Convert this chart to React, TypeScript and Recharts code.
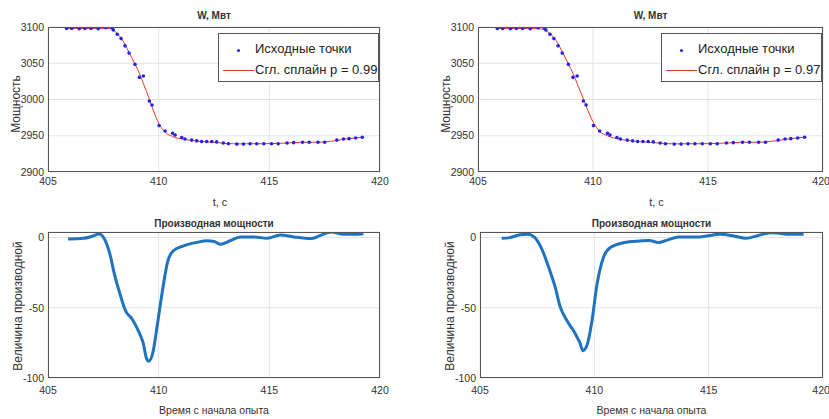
import React from "react"
import { ComposedChart, LineChart, Line, Scatter, XAxis, YAxis, CartesianGrid } from "recharts"

// source samples (shared by both top panels)
const ptsT = [
  405.84, 406.07, 406.41, 406.67, 406.94, 407.27, 407.61, 407.88, 407.95, 408.13,
  408.3, 408.48, 408.66, 408.93, 409.13, 409.31, 409.58, 409.7, 410.02, 410.29,
  410.63, 410.74, 411.04, 411.19, 411.49, 411.72, 411.94, 412.17, 412.4, 412.62,
  412.92, 413.15, 413.53, 413.83, 414.13, 414.43, 414.75, 415.1, 415.4, 415.8,
  416.1, 416.5, 416.8, 417.2, 417.5, 418.05, 418.35, 418.6, 418.9, 419.2,
]
const ptsW = [
  3098, 3098, 3097.5, 3098, 3098, 3097.5, 3099, 3099, 3096, 3090,
  3084, 3074, 3064, 3048.5, 3030.5, 3032.5, 2998, 2992.5, 2964, 2956.5,
  2953.5, 2951, 2947.5, 2945.5, 2944, 2943, 2942, 2942, 2942, 2941.5,
  2940, 2939, 2938.5, 2938.5, 2939, 2939, 2939, 2939, 2939, 2940,
  2940.5, 2941, 2941, 2941, 2941, 2944, 2945.5, 2946, 2947, 2948,
]

// smoothing spline, p = 0.99 / p = 0.97
const spline99 = [
  3098, 3098, 3098, 3098, 3098, 3098, 3098, 3097.5, 3096, 3091,
  3085, 3076, 3065, 3049, 3036, 3022, 3000, 2990, 2966, 2955,
  2949, 2947.5, 2945.5, 2944.8, 2943.5, 2942.8, 2942, 2941.5, 2941, 2940.5,
  2939.8, 2939.2, 2938.8, 2938.8, 2939, 2939, 2939, 2939.2, 2939.5, 2940,
  2940.5, 2941, 2941, 2941, 2941.5, 2943.5, 2945, 2946, 2947, 2948,
]
const spline97 = [
  3098, 3098, 3098, 3098, 3098, 3098, 3097.5, 3096.5, 3095, 3091,
  3085, 3077, 3066, 3049, 3036, 3022, 3001, 2991, 2968, 2956,
  2950, 2948.5, 2946, 2945, 2943.5, 2942.8, 2942, 2941.5, 2941, 2940.5,
  2939.8, 2939.2, 2938.8, 2938.8, 2939, 2939, 2939, 2939.2, 2939.5, 2940,
  2940.5, 2941, 2941, 2941, 2941.5, 2943.5, 2945, 2946, 2947, 2948,
]

// derivative of power
const der1T = [
  405.9, 406.6, 407.0, 407.3, 407.55, 407.8, 408.0, 408.25, 408.5, 408.8,
  409.1, 409.3, 409.45, 409.55, 409.75, 409.95, 410.2, 410.4, 410.65, 411.1,
  411.7, 412.2, 412.5, 412.8, 413.2, 413.7, 414.3, 414.9, 415.5, 416.1,
  416.9, 417.25, 417.8, 418.35, 418.8, 419.25,
]
const der1V = [
  -1, -0.5, 1, 2.5, -1, -12, -26, -40, -52, -58,
  -67, -75, -86, -88, -81, -61, -35, -17.5, -9.5, -6,
  -3.5, -2.3, -2.8, -4.7, -2.4, 0.5, 0.5, -0.5, 1.9, 0.5,
  -0.7, 1.2, 4, 2.4, 2.4, 2.8,
]
const der2T = [
  405.95, 406.3, 406.75, 407.1, 407.4, 407.7, 408.0, 408.3, 408.5, 408.8,
  409.15, 409.37, 409.5, 409.66, 409.9, 410.1, 410.4, 410.7, 411.3, 412.0,
  412.4, 412.8, 413.15, 413.7, 414.6, 415.5, 416.1, 416.65, 417.1, 417.7,
  418.0, 418.4, 419.15,
]
const der2V = [
  -0.5, 0, 2, 2.4, 0, -8, -21, -36, -49, -59,
  -68, -75, -80.5, -77.5, -59, -35, -14, -7, -3.5, -2.4,
  -2, -3.5, -2, 0.5, 0.5, 2.4, 1.2, -0.5, 1.2, 3.5,
  3.3, 2.4, 2.4,
]

const xTicks = [405, 410, 415, 420]
const powerTicks = [2900, 2950, 3000, 3050, 3100]
const derTicks = [-100, -50, 0]

const FONT = '"Liberation Sans", Arial, sans-serif'
const tickStyle = { fontSize: 10.5, fill: "#333", fontFamily: FONT }

function Box({ x, y, w, h }: { x: number; y: number; w: number; h: number }) {
  return (
    <div
      style={{
        position: "absolute", left: x, top: y, width: w, height: h,
        border: "1px solid #555", boxSizing: "border-box", pointerEvents: "none",
      }}
    />
  )
}

function Text({ x, y, children, size = 12, bold = false, rotate = false }: any) {
  return (
    <div
      style={{
        position: "absolute", left: x, top: y, whiteSpace: "nowrap",
        transform: `translate(-50%, -50%)${rotate ? " rotate(-90deg)" : ""}`,
        fontFamily: FONT, fontSize: size, fontWeight: bold ? "bold" : "normal", color: "#333",
      }}
    >
      {children}
    </div>
  )
}

function PowerPanel({ left, yAxisW, right, spline, p }: any) {
  const width = left === 0 ? 400 : 419
  const plotL = left + yAxisW
  const plotR = left + width - right
  const pts = ptsT.map((t, i) => ({ t, w: ptsW[i] }))
  const spl = ptsT.map((t, i) => ({ t, s: spline[i] }))
  const cx = (plotL + plotR) / 2
  return (
    <>
      <div style={{ position: "absolute", left, top: 0 }}>
        <ComposedChart width={width} height={200} margin={{ top: 27, right, left: 0, bottom: 0 }}>
          <CartesianGrid stroke="#e4e4e4" />
          <XAxis type="number" dataKey="t" domain={[405, 420]} ticks={xTicks} height={28}
            axisLine={false} tickSize={0} tickMargin={6} tick={tickStyle} allowDataOverflow />
          <YAxis type="number" domain={[2900, 3100]} ticks={powerTicks} width={yAxisW}
            axisLine={false} tickSize={0} tickMargin={4} tick={tickStyle} allowDataOverflow />
          <Line data={spl} dataKey="s" type="monotone" stroke="#e8392f" strokeWidth={1}
            dot={false} isAnimationActive={false} />
          <Scatter data={pts} dataKey="w" fill="#2323e6" isAnimationActive={false}
            shape={(props: any) => <circle cx={props.cx} cy={props.cy} r={1.8} fill="#2323e6" />} />
        </ComposedChart>
      </div>
      <Box x={plotL} y={27} w={plotR - plotL} h={145} />
      <Text x={cx} y={15} size={10} bold>W, Мвт</Text>
      <Text x={cx + 6} y={202} size={11}>t, c</Text>
      <Text x={plotL - 32} y={104} size={12} rotate>Мощность</Text>
      <div
        style={{
          position: "absolute", left: plotR - 162, top: 33, width: 161, height: 49,
          border: "1px solid #555", background: "#fff", boxSizing: "border-box",
          fontFamily: FONT, fontSize: 13, color: "#222",
        }}
      >
        <div style={{ position: "absolute", left: 18, top: 15, width: 3, height: 3, borderRadius: 2, background: "#2323e6" }} />
        <div style={{ position: "absolute", left: 36, top: 7, whiteSpace: "nowrap" }}>Исходные точки</div>
        <div style={{ position: "absolute", left: 4, top: 36, width: 31, height: 1, background: "#e8392f" }} />
        <div style={{ position: "absolute", left: 36, top: 28, whiteSpace: "nowrap" }}>Сгл. сплайн p = {p}</div>
      </div>
    </>
  )
}

function DerivPanel({ left, yAxisW, right, tArr, vArr }: any) {
  const width = left === 0 ? 400 : 419
  const plotL = left + yAxisW
  const plotR = left + width - right
  const data = tArr.map((t: number, i: number) => ({ t, v: vArr[i] }))
  const cx = (plotL + plotR) / 2
  return (
    <>
      <div style={{ position: "absolute", left, top: 200 }}>
        <LineChart width={width} height={219} data={data} margin={{ top: 32, right, left: 0, bottom: 0 }}>
          <CartesianGrid stroke="#e4e4e4" />
          <XAxis type="number" dataKey="t" domain={[405, 420]} ticks={xTicks} height={41}
            axisLine={false} tickSize={0} tickMargin={9} tick={tickStyle} allowDataOverflow />
          <YAxis type="number" domain={[-100, 4]} ticks={derTicks} width={yAxisW}
            axisLine={false} tickSize={0} tickMargin={4} tick={tickStyle} allowDataOverflow />
          <Line dataKey="v" type="monotone" stroke="#1f73c0" strokeWidth={3}
            dot={false} isAnimationActive={false} />
        </LineChart>
      </div>
      <Box x={plotL} y={232} w={plotR - plotL} h={146} />
      <Text x={cx} y={223} size={10} bold>Производная мощности</Text>
      <Text x={cx} y={410} size={10.5}>Время с начала опыта</Text>
      <Text x={plotL - 30} y={306} size={12} rotate>Величина производной</Text>
    </>
  )
}

export default function App() {
  return (
    <div style={{ position: "absolute", left: 0, top: 0, width: 829, height: 419, background: "#fff", overflow: "hidden" }}>
      <PowerPanel left={0} yAxisW={48} right={20} spline={spline99} p="0.99" />
      <PowerPanel left={410} yAxisW={68} right={6} spline={spline97} p="0.97" />
      <DerivPanel left={0} yAxisW={48} right={20} tArr={der1T} vArr={der1V} />
      <DerivPanel left={410} yAxisW={70} right={6} tArr={der2T} vArr={der2V} />
    </div>
  )
}
